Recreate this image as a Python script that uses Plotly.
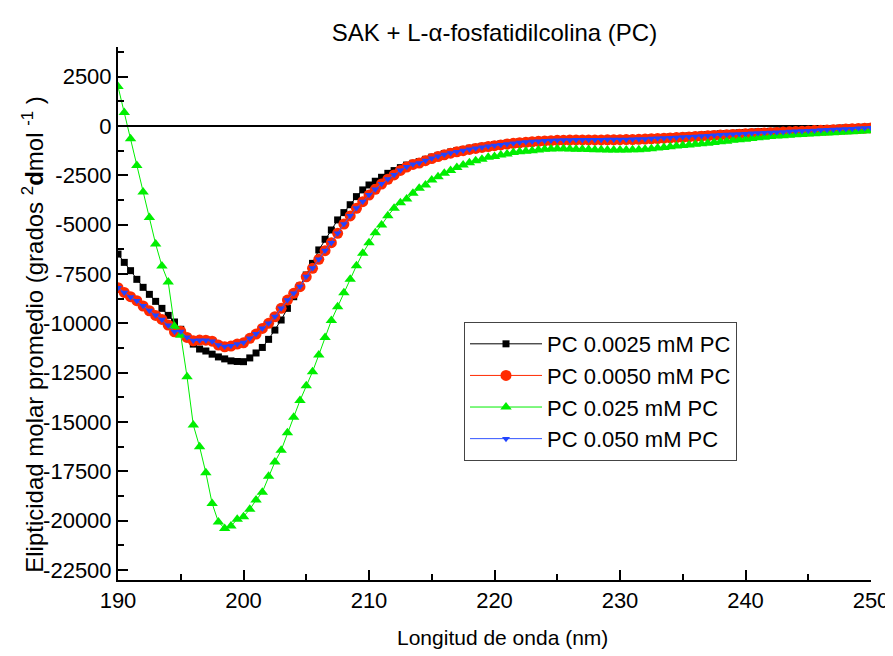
import plotly.graph_objects as go

# wavelength grid (nm), one reading every 0.5 nm from 190 to 250
wavelength = [190 + 0.5 * i for i in range(121)]

pc_00025 = [
    -6490, -6910, -7330, -7770, -8175, -8530, -8885, -9240, -9595, -9930,
    -10300, -10700, -11050, -11300, -11400, -11560, -11700, -11800, -11900, -11930,
    -11940, -11750, -11500, -11220, -10810, -10340, -9830, -9240, -8650, -8100,
    -7550, -6960, -6280, -5740, -5270, -4760, -4390, -3990, -3580, -3240,
    -2990, -2800, -2600, -2400, -2260, -2110, -1980, -1890, -1800, -1690,
    -1580, -1490, -1400, -1320, -1250, -1190, -1130, -1080, -1030, -990,
    -950, -910, -870, -840, -810, -790, -770, -755, -740, -730,
    -720, -715, -710, -705, -700, -695, -690, -685, -680, -675,
    -670, -660, -650, -640, -625, -610, -595, -580, -560, -540,
    -520, -500, -480, -460, -440, -420, -400, -385, -370, -350,
    -330, -315, -300, -285, -270, -255, -240, -225, -210, -195,
    -180, -165, -150, -140, -125, -110, -100, -90, -75, -60,
    -50,
]

pc_00050 = [
    -8190, -8430, -8650, -8850, -9120, -9360, -9595, -9800, -10085, -10425,
    -10400, -10710, -10880, -10845, -10850, -10900, -11100, -11185, -11150, -11050,
    -10985, -10760, -10540, -10255, -10000, -9665, -9240, -8820, -8480, -8140,
    -7640, -7210, -6755, -6320, -5915, -5440, -4970, -4560, -4170, -3835,
    -3500, -3210, -2940, -2700, -2480, -2250, -2080, -1950, -1880, -1760,
    -1650, -1550, -1460, -1380, -1310, -1250, -1190, -1140, -1090, -1040,
    -1000, -960, -920, -880, -850, -825, -800, -780, -760, -745,
    -730, -720, -715, -710, -710, -710, -705, -705, -700, -700,
    -695, -690, -685, -675, -665, -650, -635, -620, -605, -590,
    -575, -555, -540, -520, -500, -480, -460, -445, -430, -415,
    -400, -385, -370, -355, -340, -325, -310, -295, -280, -265,
    -250, -235, -220, -205, -190, -175, -160, -145, -130, -115,
    -100,
]

pc_0025 = [
    2000, 680, -650, -2000, -3350, -4640, -5980, -7090, -7900, -10140,
    -10600, -12700, -15150, -16250, -17570, -19120, -20060, -20390, -20270, -19920,
    -19790, -19420, -18950, -18550, -17740, -17020, -16430, -15540, -14750, -13910,
    -13160, -12450, -11600, -10720, -9850, -9160, -8450, -7770, -7080, -6450,
    -5910, -5410, -5020, -4550, -4170, -3890, -3700, -3410, -3160, -2990,
    -2740, -2570, -2400, -2260, -2100, -1980, -1860, -1760, -1690, -1590,
    -1550, -1470, -1420, -1350, -1300, -1280, -1250, -1220, -1180, -1170,
    -1160, -1160, -1170, -1180, -1180, -1190, -1200, -1210, -1220, -1220,
    -1220, -1220, -1210, -1200, -1180, -1150, -1120, -1090, -1050, -1020,
    -990, -960, -930, -900, -870, -840, -800, -770, -730, -700,
    -670, -640, -600, -570, -540, -510, -490, -470, -450, -430,
    -410, -390, -370, -360, -340, -320, -300, -290, -270, -250,
    -230,
]

pc_0050 = [
    -8200, -8440, -8660, -8860, -9110, -9350, -9590, -9810, -10090, -10420,
    -10410, -10700, -10870, -10850, -10860, -10910, -11090, -11170, -11140, -11040,
    -10970, -10750, -10530, -10250, -9990, -9650, -9230, -8810, -8470, -8130,
    -7630, -7200, -6750, -6310, -5910, -5430, -4960, -4550, -4160, -3830,
    -3490, -3200, -2930, -2690, -2470, -2240, -2070, -1940, -1870, -1750,
    -1640, -1540, -1450, -1370, -1300, -1240, -1180, -1130, -1080, -1030,
    -990, -950, -910, -870, -840, -815, -790, -770, -750, -735,
    -720, -710, -705, -700, -700, -700, -695, -695, -690, -690,
    -685, -680, -675, -665, -655, -640, -625, -610, -595, -580,
    -565, -545, -530, -510, -490, -470, -450, -435, -420, -405,
    -390, -375, -360, -345, -330, -315, -300, -285, -270, -255,
    -240, -225, -210, -195, -180, -165, -150, -135, -120, -105,
    -90,
]

series_names = ["PC 0.0025 mM PC", "PC 0.0050 mM PC", "PC 0.025 mM PC", "PC 0.050 mM PC"]

y_tick_vals = [2500, 0, -2500, -5000, -7500, -10000, -12500, -15000, -17500, -20000, -22500]
y_tick_text = ["2500", "0", "-2500", "-5000", "-7500", "-10000", "-12500", "-15000",
               "-17500", "-20000", "-22500"]
x_tick_vals = [190, 200, 210, 220, 230, 240, 250]

title_text = "SAK + L-\u03b1-fosfatidilcolina (PC)"
x_title = "Longitud de onda (nm)"
y_title = "Elipticidad molar promedio (grados <sup>2</sup><b>d</b>mol <sup>-1</sup> )"

FONT = "Liberation Sans, Arial, sans-serif"

fig = go.Figure()
fig.add_trace(go.Scatter(
    x=wavelength, y=pc_00025, name=series_names[0], mode="lines+markers",
    line=dict(color="black", width=1),
    marker=dict(symbol="square", size=7, color="black"),
))
fig.add_trace(go.Scatter(
    x=wavelength, y=pc_00050, name=series_names[1], mode="lines+markers",
    line=dict(color="#ff2a00", width=1),
    marker=dict(symbol="circle", size=11, color="#ff2a00"),
))
fig.add_trace(go.Scatter(
    x=wavelength, y=pc_0025, name=series_names[2], mode="lines+markers",
    line=dict(color="#00ee00", width=1),
    marker=dict(symbol="triangle-up", size=10, color="#00ee00"),
))
fig.add_trace(go.Scatter(
    x=wavelength, y=pc_0050, name=series_names[3], mode="lines+markers",
    line=dict(color="#3355ff", width=1),
    marker=dict(symbol="triangle-down", size=7, color="#2244ff"),
))

# page body has an 8px margin, so plot area is offset accordingly
fig.update_layout(
    width=893, height=656,
    margin=dict(l=110, r=30, t=39, b=84),
    paper_bgcolor="white", plot_bgcolor="white",
    font=dict(family=FONT, color="black", size=20),
    showlegend=True,
    title=dict(text=title_text, x=0.5, xref="paper", xanchor="center",
               y=1 - 25 / 656, yref="container", yanchor="middle",
               font=dict(family=FONT, size=24, color="black")),
    legend=dict(
        x=0.4595, y=0.484, xanchor="left", yanchor="top",
        bgcolor="white", bordercolor="#444444", borderwidth=1,
        font=dict(family=FONT, size=22, color="black"),
        itemwidth=72,
    ),
    xaxis=dict(
        range=[190, 250], tickvals=x_tick_vals,
        showline=True, linecolor="black", linewidth=2, mirror=False,
        ticks="inside", ticklen=10, tickwidth=2, tickcolor="black",
        minor=dict(dtick=5, ticks="inside", ticklen=6, tickwidth=2, tickcolor="black"),
        showgrid=False, zeroline=False,
        tickfont=dict(family=FONT, size=22, color="black"),
    ),
    yaxis=dict(
        range=[-23000, 4000], tickvals=y_tick_vals, ticktext=y_tick_text,
        showline=True, linecolor="black", linewidth=2, mirror=False,
        ticks="inside", ticklen=10, tickwidth=2, tickcolor="black",
        minor=dict(tick0=1250, dtick=2500, ticks="inside", ticklen=6, tickwidth=2, tickcolor="black"),
        showgrid=False, zeroline=True, zerolinecolor="black", zerolinewidth=2,
        tickfont=dict(family=FONT, size=22, color="black"),
    ),
    annotations=[
        dict(text=x_title, xref="paper", yref="paper", x=0.51, y=-0.107,
             xanchor="center", yanchor="middle", showarrow=False,
             font=dict(family=FONT, size=21, color="black")),
        dict(text=y_title, xref="paper", yref="paper", x=-0.113, y=0.46,
             xanchor="center", yanchor="middle", showarrow=False, textangle=-90,
             font=dict(family=FONT, size=24, color="black")),
    ],
)

fig.write_html("out.html")
